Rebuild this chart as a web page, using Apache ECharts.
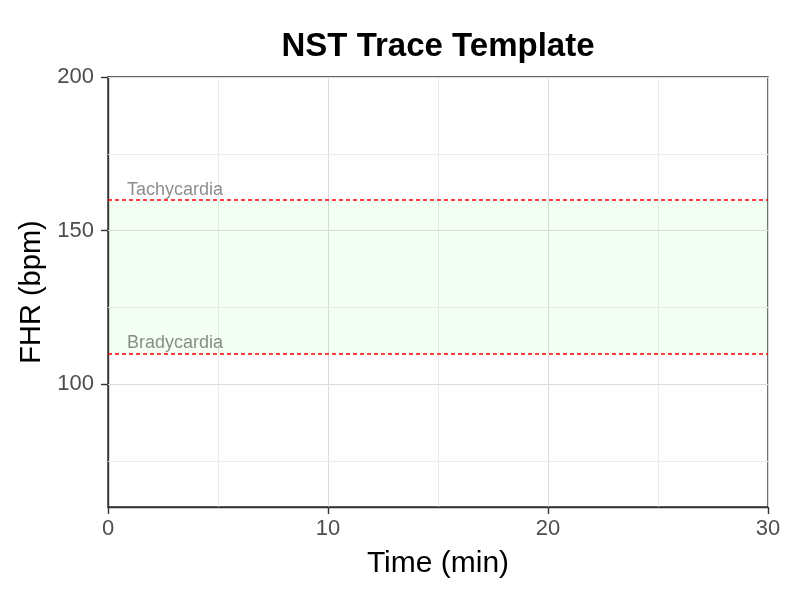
<!DOCTYPE html>
<html>
<head>
<meta charset="utf-8">
<script src="https://cdn.jsdelivr.net/npm/echarts@6/dist/echarts.min.js"></script>
<style>html,body{margin:0;padding:0;background:#fff}#c{width:800px;height:600px}</style>
</head>
<body>
<div id="c"></div>
<script>
var chartTitle = 'NST Trace Template';
var xName = 'Time (min)';
var yName = 'FHR (bpm)';
var xRange = [0, 30];
var yRange = [60, 200];
var yTickValues = [100, 150, 200];
var yMinorGrid = [75, 125, 175];
var yMajorGrid = [100, 150, 200];
var normalBand = [110, 160];
var thresholdNames = ['Tachycardia', 'Bradycardia'];
var thresholdValues = [160, 110];
var labelX = 1;

var chart = echarts.init(document.getElementById('c'));
var FONT = '"Liberation Sans", Arial, sans-serif';

var gridLines = [];
yMinorGrid.forEach(function (v) {
  gridLines.push({ yAxis: v, lineStyle: { color: '#ebebeb', width: 1, type: 'solid' } });
});
yMajorGrid.forEach(function (v) {
  gridLines.push({ yAxis: v, lineStyle: { color: '#dcdcdc', width: 1, type: 'solid' } });
});

var RED = '#ff0000';
var threshStyle = { color: RED, width: 1.5, type: [4, 3], opacity: 1 };

chart.setOption({
  animation: false,
  backgroundColor: '#ffffff',
  title: {
    text: chartTitle,
    left: 433, textAlign: 'center', top: 25,
    textStyle: { fontFamily: FONT, fontWeight: 'bold', fontSize: 33, color: '#000' }
  },
  grid: {
    left: 108, right: 32, top: 77, bottom: 93,
    show: true, borderColor: '#333', borderWidth: 1.4, backgroundColor: 'transparent'
  },
  xAxis: {
    type: 'value', min: xRange[0], max: xRange[1], interval: 10,
    name: xName, nameLocation: 'middle', nameGap: 42,
    nameTextStyle: { fontFamily: FONT, fontSize: 30, color: '#000' },
    axisLine: { show: true, lineStyle: { color: '#333', width: 1.4 } },
    axisTick: { show: true, length: 7, lineStyle: { color: '#333', width: 1.4 } },
    axisLabel: { fontFamily: FONT, fontSize: 22, color: '#4d4d4d', margin: 11 },
    splitLine: { show: true, lineStyle: { color: '#dcdcdc', width: 1 } },
    minorTick: { show: false, splitNumber: 2 },
    minorSplitLine: { show: true, lineStyle: { color: '#ebebeb', width: 1 } }
  },
  yAxis: {
    type: 'value', min: yRange[0], max: yRange[1],
    name: yName, nameLocation: 'middle', nameGap: 58, nameRotate: 90,
    nameTextStyle: { fontFamily: FONT, fontSize: 29, color: '#000' },
    axisLine: { show: true, lineStyle: { color: '#333', width: 1.4 } },
    axisTick: { show: true, length: 7, customValues: yTickValues, lineStyle: { color: '#333', width: 1.4 } },
    axisLabel: { fontFamily: FONT, fontSize: 22, color: '#4d4d4d', margin: 14, customValues: yTickValues },
    splitLine: { show: false }
  },
  series: [
    {
      type: 'line', data: [], silent: true, z: 1,
      markLine: { silent: true, symbol: 'none', label: { show: false }, data: gridLines }
    },
    {
      type: 'line', data: [], silent: true, z: 2,
      markArea: {
        silent: true,
        itemStyle: { color: 'rgba(0,255,0,0.05)', borderWidth: 0 },
        data: [[{ yAxis: normalBand[0] }, { yAxis: normalBand[1] }]]
      }
    },
    {
      type: 'line', data: [], silent: true, z: 4, color: RED,
      markLine: {
        silent: true, symbol: 'none', label: { show: false },
        lineStyle: threshStyle,
        data: thresholdValues.map(function (v) { return { yAxis: v, lineStyle: threshStyle }; })
      }
    },
    {
      type: 'scatter', symbolSize: 0, silent: true, z: 5,
      data: thresholdValues.map(function (v, i) { return { value: [labelX, v], name: thresholdNames[i] }; }),
      label: {
        show: true, formatter: '{b}', position: [-3, -1], align: 'left', verticalAlign: 'bottom',
        fontFamily: FONT, fontSize: 18, color: 'rgba(77,77,77,0.8)'
      }
    }
  ]
});
</script>
</body>
</html>
